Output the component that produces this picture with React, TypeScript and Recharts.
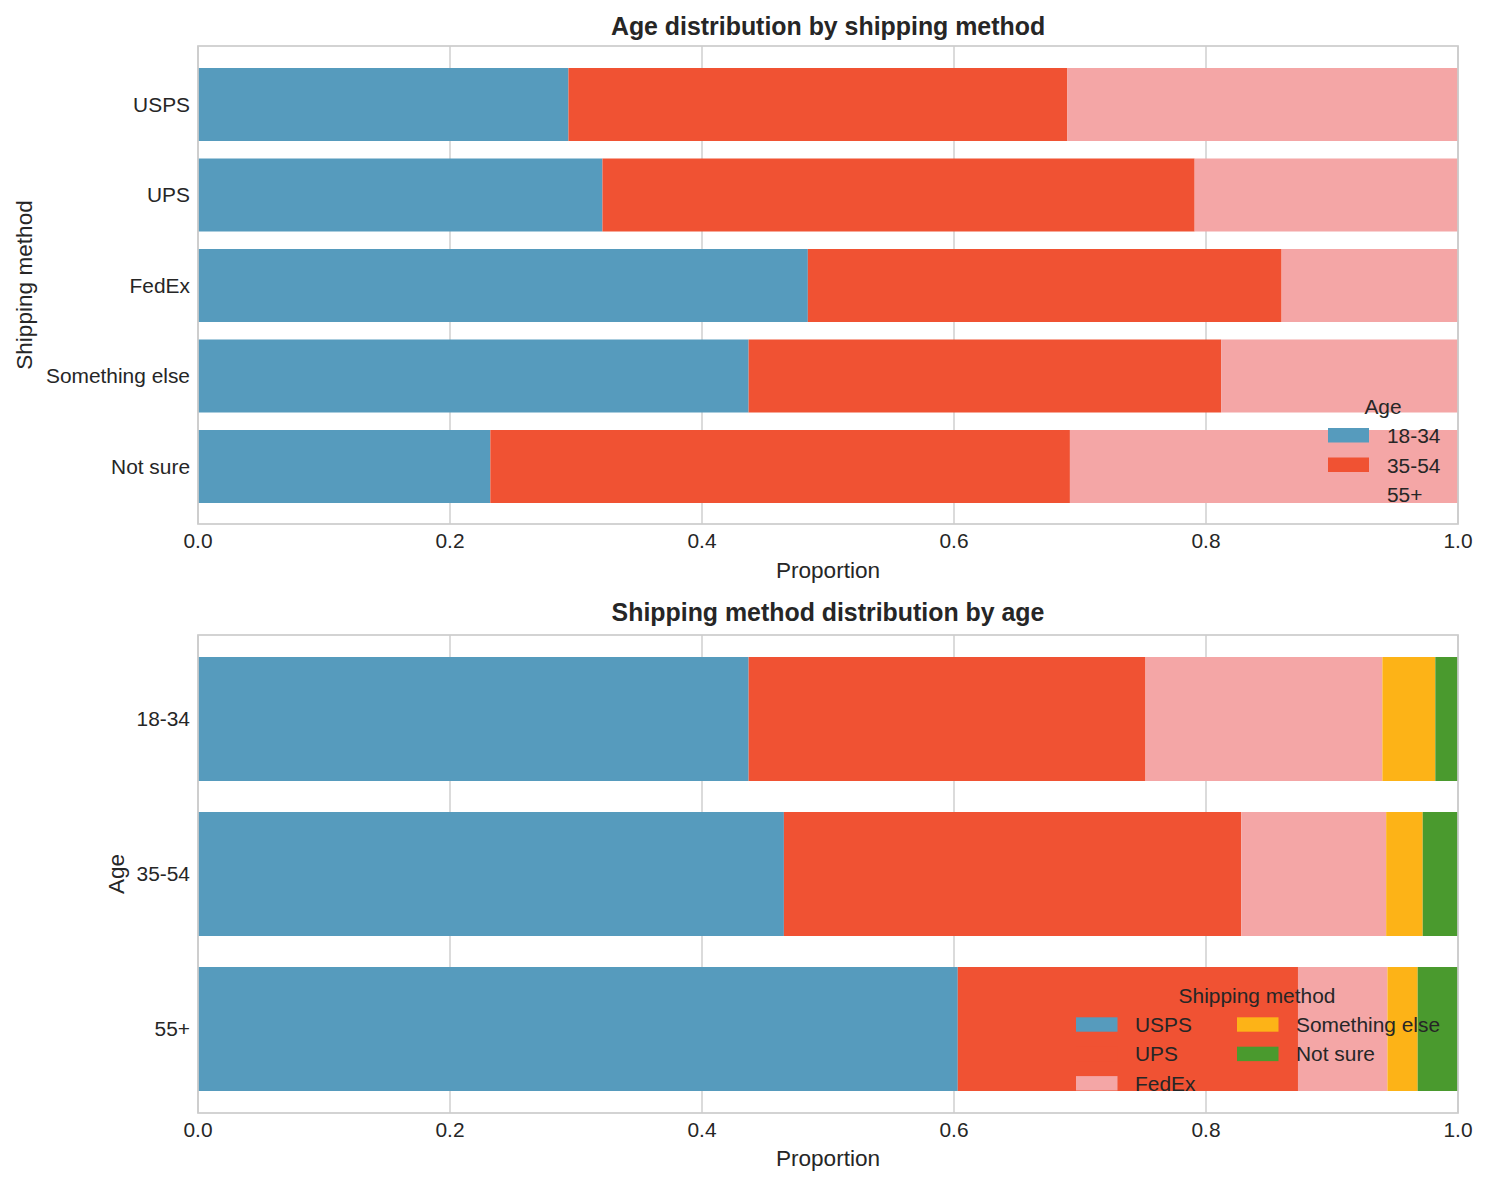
import { BarChart, Bar, XAxis, YAxis, CartesianGrid, Legend } from "recharts";

const shippingMethods = ["USPS", "UPS", "FedEx", "Something else", "Not sure"];
const ageGroups = ["18-34", "35-54", "55+"];
const xTicks = [0, 0.2, 0.4, 0.6, 0.8, 1.0];

// top chart: share of each age group within a shipping method
const age1834ByMethod = [0.294, 0.321, 0.484, 0.437, 0.232];
const age3554ByMethod = [0.396, 0.47, 0.376, 0.375, 0.46];
const age55ByMethod = [0.31, 0.209, 0.14, 0.188, 0.308];

// bottom chart: share of each shipping method within an age group
const uspsByAge = [0.437, 0.465, 0.603];
const upsByAge = [0.315, 0.363, 0.27];
const fedexByAge = [0.188, 0.115, 0.071];
const somethingElseByAge = [0.042, 0.029, 0.024];
const notSureByAge = [0.018, 0.028, 0.032];

const colors = ["#569bbd", "#f05233", "#f4a6a6", "#fdb317", "#4a9a2e"];
const textColor = "#262626";
const gridColor = "#cccccc";
const fontFamily = "'Liberation Sans', Arial, sans-serif";

const ageSeries = [age1834ByMethod, age3554ByMethod, age55ByMethod];
const methodSeries = [uspsByAge, upsByAge, fedexByAge, somethingElseByAge, notSureByAge];

const topData = shippingMethods.map((name, i) => {
  const row: Record<string, string | number> = { name };
  ageGroups.forEach((g, k) => (row[g] = ageSeries[k][i]));
  return row;
});

const bottomData = ageGroups.map((name, i) => {
  const row: Record<string, string | number> = { name };
  shippingMethods.forEach((m, k) => (row[m] = methodSeries[k][i]));
  return row;
});

const tickStyle = { fontSize: 20.9, fill: textColor, fontFamily };

function AgeLegend() {
  return (
    <svg width={170} height={130} style={{ overflow: "visible", display: "block" }}>
      <text x={83} y={24} textAnchor="middle" fontSize={20.9} fill={textColor} fontFamily={fontFamily}>
        Age
      </text>
      {ageGroups.map((g, i) => (
        <g key={g}>
          <rect x={28} y={38 + i * 29.5} width={41} height={14.5} fill={colors[i]} />
          <text x={87} y={53.3 + i * 29.5} fontSize={20.9} fill={textColor} fontFamily={fontFamily}>
            {g}
          </text>
        </g>
      ))}
    </svg>
  );
}

function MethodLegend() {
  return (
    <svg width={400} height={130} style={{ overflow: "visible", display: "block" }}>
      <text x={197} y={27.7} textAnchor="middle" fontSize={20.9} fill={textColor} fontFamily={fontFamily}>
        Shipping method
      </text>
      {shippingMethods.map((m, i) => {
        const col = i < 3 ? 0 : 1;
        const row = i < 3 ? i : i - 3;
        const sx = col === 0 ? 16 : 177;
        return (
          <g key={m}>
            <rect x={sx} y={42.3 + row * 29.4} width={41.5} height={14.4} fill={colors[i]} />
            <text x={sx + 59} y={56.7 + row * 29.4} fontSize={20.9} fill={textColor} fontFamily={fontFamily}>
              {m}
            </text>
          </g>
        );
      })}
    </svg>
  );
}

export default function App() {
  return (
    <div style={{ position: "absolute", left: 0, top: 0, width: 1487, height: 1186, fontFamily, background: "#fff" }}>
      <div style={{ position: "absolute", left: 0, top: 0 }}>
        <BarChart width={1487} height={590} data={topData} layout="vertical" margin={{ top: 46, right: 29, bottom: 0, left: 0 }}>
          <CartesianGrid horizontal={false} stroke={gridColor} strokeWidth={1.4} />
          <XAxis
            type="number"
            domain={[0, 1]}
            ticks={xTicks}
            allowDataOverflow
            interval={0}
            tickFormatter={(v) => Number(v).toFixed(1)}
            axisLine={false}
            tickLine={false}
            tickSize={0}
            tickMargin={9}
            height={66}
            tick={tickStyle}
          />
          <YAxis
            type="category"
            dataKey="name"
            width={198}
            interval={0}
            axisLine={false}
            tickLine={false}
            tickSize={0}
            tickMargin={8}
            padding={{ top: 13, bottom: 12.5 }}
            tick={tickStyle}
          />
          {ageGroups.map((g, i) => (
            <Bar key={g} dataKey={g} stackId="a" fill={colors[i]} barSize={73} isAnimationActive={false} />
          ))}
          <Legend
            layout="vertical"
            align="center"
            verticalAlign="middle"
            wrapperStyle={{ left: 1300, top: 390, width: 170, height: 130 }}
            content={() => <AgeLegend />}
          />
        </BarChart>
      </div>

      <div style={{ position: "absolute", left: 0, top: 590 }}>
        <BarChart width={1487} height={596} data={bottomData} layout="vertical" margin={{ top: 45, right: 29, bottom: 0, left: 0 }}>
          <CartesianGrid horizontal={false} stroke={gridColor} strokeWidth={1.4} />
          <XAxis
            type="number"
            domain={[0, 1]}
            ticks={xTicks}
            allowDataOverflow
            interval={0}
            tickFormatter={(v) => Number(v).toFixed(1)}
            axisLine={false}
            tickLine={false}
            tickSize={0}
            tickMargin={9}
            height={73}
            tick={tickStyle}
          />
          <YAxis
            type="category"
            dataKey="name"
            width={198}
            interval={0}
            axisLine={false}
            tickLine={false}
            tickSize={0}
            tickMargin={8}
            padding={{ top: 6, bottom: 7 }}
            tick={tickStyle}
          />
          {shippingMethods.map((m, i) => (
            <Bar key={m} dataKey={m} stackId="a" fill={colors[i]} barSize={124} isAnimationActive={false} />
          ))}
          <Legend
            layout="vertical"
            align="center"
            verticalAlign="middle"
            wrapperStyle={{ left: 1060, top: 385, width: 400, height: 130 }}
            content={() => <MethodLegend />}
          />
        </BarChart>
      </div>

      {/* frames, titles and axis labels */}
      <svg width={1487} height={1186} style={{ position: "absolute", left: 0, top: 0, pointerEvents: "none" }}>
        <rect x={198} y={46} width={1260} height={478} fill="none" stroke={gridColor} strokeWidth={1.7} />
        <rect x={198} y={635} width={1260} height={478} fill="none" stroke={gridColor} strokeWidth={1.7} />
        <g fill={textColor} fontFamily={fontFamily} textAnchor="middle">
          <text x={828} y={34.5} fontSize={24.9} fontWeight="bold">
            Age distribution by shipping method
          </text>
          <text x={828} y={620.5} fontSize={24.9} fontWeight="bold">
            Shipping method distribution by age
          </text>
          <text x={828} y={577.5} fontSize={22.6}>
            Proportion
          </text>
          <text x={828} y={1165.5} fontSize={22.6}>
            Proportion
          </text>
          <text x={32} y={285} fontSize={22.6} transform="rotate(-90 32 285)">
            Shipping method
          </text>
          <text x={124} y={874} fontSize={22.6} transform="rotate(-90 124 874)">
            Age
          </text>
        </g>
      </svg>
    </div>
  );
}
